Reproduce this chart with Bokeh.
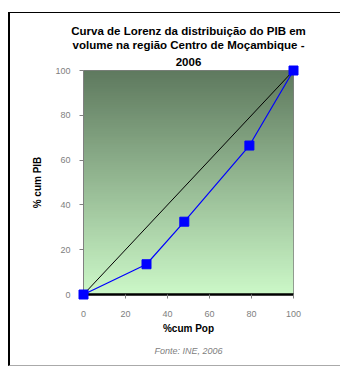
import numpy as np
from bokeh.plotting import figure
from bokeh.models import Range1d, FixedTicker, Title
from bokeh.embed import file_html
from bokeh.resources import INLINE

# Data
pop_cum = [0, 30, 48, 79, 100]
pib_cum = [0, 13.5, 32.5, 66.5, 100]
equality_x = [0, 100]
equality_y = [0, 100]
ticks = [0, 20, 40, 60, 80, 100]
title_lines = ["Curva de Lorenz da distribuição do PIB em",
               "volume na região Centro de Moçambique -",
               "2006"]

p = figure(width=332, height=354, output_backend="svg", toolbar_location=None,
           x_range=Range1d(0, 100), y_range=Range1d(0, 100),
           min_border_left=73, min_border_right=49, min_border_top=57,
           min_border_bottom=73)
p.styles = {"margin-left": "8px", "margin-top": "12px",
            "border-left": "2px solid black", "border-top": "1px solid black",
            "border-bottom": "1px solid #aaaaaa"}

# background gradient (decoration)
n = 100
top = np.array([95, 122, 95], dtype=float)
bot = np.array([204, 248, 200], dtype=float)
img = np.zeros((n, 2), dtype=np.uint32)
view = img.view(dtype=np.uint8).reshape((n, 2, 4))
for i in range(n):
    t = i / (n - 1)  # row 0 = bottom
    c = bot * (1 - t) + top * t
    view[i, :, 0] = int(c[0]); view[i, :, 1] = int(c[1]); view[i, :, 2] = int(c[2]); view[i, :, 3] = 255
p.image_rgba(image=[img], x=0, y=0, dw=100, dh=100, level="image")

p.line(equality_x, equality_y, color="black", line_width=1)
p.line(pop_cum, pib_cum, color="#0000ff", line_width=1.2)
p.scatter(pop_cum, pib_cum, marker="square", size=9, color="#0000ff", level="overlay")

p.grid.visible = False
p.outline_line_color = "#808080"
p.outline_line_width = 1

for i, line in enumerate(reversed(title_lines)):
    p.add_layout(Title(text=line, align="center", text_font="Liberation Sans",
                       text_font_size="11.5px", text_font_style="bold",
                       text_color="black", standoff=10 if i == 0 else 0, offset=0), "above")

src = Title(text="Fonte: INE, 2006", align="center", text_font="Liberation Sans",
            text_font_size="9px", text_font_style="italic", text_color="#808080",
            standoff=15)
p.add_layout(src, "below")

for ax in (p.xaxis[0], p.yaxis[0]):
    ax.ticker = FixedTicker(ticks=ticks)
    ax.minor_tick_line_color = None
    ax.major_label_text_font = "Liberation Sans"
    ax.major_label_text_font_size = "9px"
    ax.major_label_text_color = "#808080"
    ax.major_tick_line_color = "#808080"
    ax.major_tick_in = 0
    ax.major_tick_out = 4
    ax.axis_label_text_font = "Liberation Sans"
    ax.axis_label_text_font_size = "10px"
    ax.axis_label_text_font_style = "bold"
    ax.axis_label_text_color = "black"

p.xaxis.axis_label = "%cum Pop"
p.yaxis.axis_label = "% cum PIB"
p.xaxis.axis_line_color = "black"
p.xaxis.axis_line_width = 2.5
p.yaxis.axis_line_color = "#808080"
p.xaxis.major_label_standoff = 12
p.yaxis.major_label_standoff = 9
p.yaxis.axis_label_standoff = 9
p.xaxis.axis_label_standoff = 3

open("out.html", "w").write(file_html(p, INLINE))
